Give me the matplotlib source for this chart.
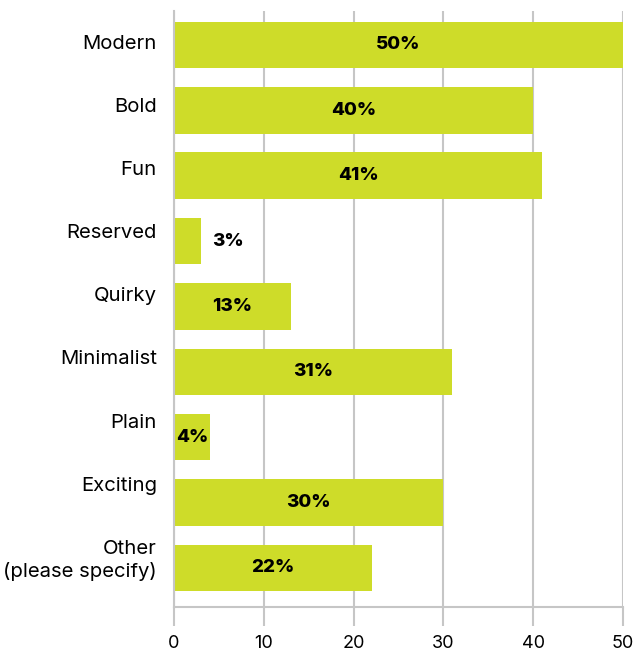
import matplotlib.pyplot as plt
import matplotlib.transforms as mtransforms

categories = ["Modern", "Bold", "Fun", "Reserved", "Quirky", "Minimalist",
              "Plain", "Exciting", "Other\n(please specify)"]
values = [50, 40, 41, 3, 13, 31, 4, 30, 22]
x_ticks = [0, 10, 20, 30, 40, 50]

bar_color = "#CEDC29"
grid_color = "#C6C6C6"

plt.rcParams['font.family'] = ['Inter', 'DejaVu Sans']

fig = plt.figure(figsize=(6.36, 6.53), dpi=100)
ax = fig.add_axes([174 / 636, 1 - 607 / 653, 449 / 636, 596 / 653])

pos = list(range(len(categories)))
ax.barh(pos, values, height=0.71, color=bar_color, zorder=2)

for y, v in zip(pos, values):
    x = v / 2 if v >= 4 else v + 3
    ax.text(x, y, f"{v}%", ha="center", va="center",
            fontsize=13.5, fontweight="heavy", color="black", zorder=3)

# category names are top-aligned on a slightly tighter pitch than the bars
for y, name in zip(pos, categories):
    shift = mtransforms.ScaledTranslation(-17 / 100, (10 + 2.25 * y) / 100,
                                          fig.dpi_scale_trans)
    ax.text(0, y, name, ha="right", va="top", fontsize=14.6,
            linespacing=1.25, transform=ax.get_yaxis_transform() + shift)

ax.set_xlim(0, 50)
ax.set_ylim(8.6, -0.52)
ax.set_xticks(x_ticks)
ax.set_yticks([])

ax.grid(axis="x", color=grid_color, linewidth=1.5, zorder=1)
ax.tick_params(axis="x", length=14, width=1.5, color=grid_color,
               labelsize=13, pad=6)

for side in ["top", "right"]:
    ax.spines[side].set_visible(False)
for side in ["left", "bottom"]:
    ax.spines[side].set_color(grid_color)
    ax.spines[side].set_linewidth(1.5)

fig.savefig("out.png", dpi=100)
